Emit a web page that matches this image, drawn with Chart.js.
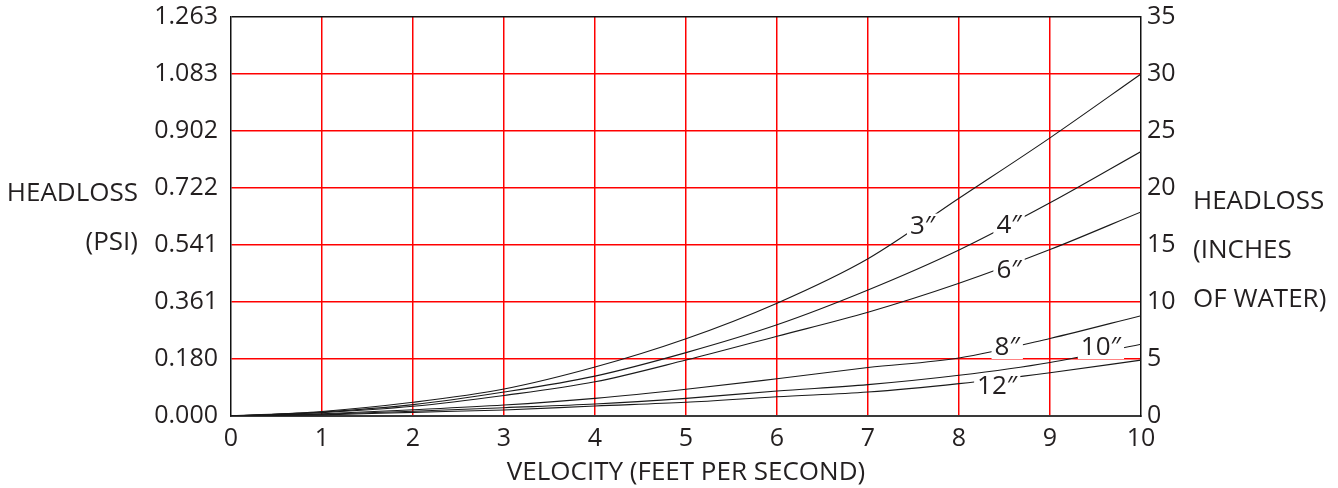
<!DOCTYPE html>
<html>
<head>
<meta charset="utf-8">
<script src="https://cdn.jsdelivr.net/npm/chart.js@4.4.1/dist/chart.umd.min.js"></script>
<style>
  html, body { margin: 0; padding: 0; background: #fff; }
</style>
</head>
<body>
<canvas id="myChart" width="1338" height="488"></canvas>
<script>
// velocity (ft/s) and headloss in inches of water for each pipe size
var velocity = [0, 1, 2, 3, 4, 5, 6, 7, 8, 9, 10];
var pipe3  = [0, 0.40, 1.20, 2.37, 4.30, 6.78, 9.90, 13.80, 19.10, 24.40, 30.00];
var pipe4  = [0, 0.35, 1.00, 2.10, 3.50, 5.56, 8.00, 11.05, 14.56, 18.70, 23.20];
var pipe6  = [0, 0.30, 0.85, 1.80, 3.00, 4.91, 7.00, 9.10, 11.64, 14.60, 17.90];
var pipe8  = [0, 0.20, 0.55, 0.96, 1.55, 2.34, 3.27, 4.25, 5.09, 6.80, 8.80];
var pipe10 = [0, 0.15, 0.42, 0.73, 1.05, 1.55, 2.19, 2.75, 3.57, 4.70, 6.30];
var pipe12 = [0, 0.10, 0.32, 0.53, 0.88, 1.20, 1.69, 2.10, 2.84, 3.80, 4.90];
var sizeNames = ['3″', '4″', '6″', '8″', '10″', '12″'];

var inchTicks = [0, 5, 10, 15, 20, 25, 30, 35];
var psiTicks = ['0.000', '0.180', '0.361', '0.541', '0.722', '0.902', '1.083', '1.263'];

var FONT = '"Open Sans", "Noto Sans", sans-serif';
var INK = '#231f20';
var RED = '#ff0000';

var allSeries = [pipe3, pipe4, pipe6, pipe8, pipe10, pipe12];
var datasets = [];
for (let i = 0; i < allSeries.length; i++) {
  datasets.push({
    label: sizeNames[i],
    data: velocity.map((v, k) => ({ x: v, y: allSeries[i][k] })),
    borderColor: '#1a1a1a',
    borderWidth: 1.1,
    pointRadius: 0,
    fill: false,
    cubicInterpolationMode: 'monotone',
    yAxisID: 'y'
  });
}

// where the size labels sit, in data units (velocity, inches)
var labelSpots = [[7.6, 16.7], [8.55, 16.75], [8.55, 12.8], [8.53, 6.05], [9.56, 6.05], [8.42, 2.63]];

var curveLabels = {
  id: 'curveLabels',
  afterDatasetsDraw(chart) {
    var c = chart.ctx, xs = chart.scales.x, ys = chart.scales.y;
    c.save();
    c.font = '26px ' + FONT;
    c.textAlign = 'center';
    c.textBaseline = 'middle';
    for (let i = 0; i < sizeNames.length; i++) {
      var px = xs.getPixelForValue(labelSpots[i][0]);
      var py = ys.getPixelForValue(labelSpots[i][1]);
      var w = c.measureText(sizeNames[i]).width;
      c.fillStyle = '#fff';
      c.fillRect(px - w / 2 - 3, py - 12, w + 6, 24);
      c.fillStyle = INK;
      c.fillText(sizeNames[i], px, py + 1);
    }
    c.restore();
  }
};

var sideTitles = {
  id: 'sideTitles',
  afterDraw(chart) {
    var c = chart.ctx, a = chart.chartArea;
    c.save();
    c.font = '26px ' + FONT;
    c.fillStyle = INK;
    c.textBaseline = 'middle';
    c.textAlign = 'right';
    c.fillText('HEADLOSS', a.left - 93, 194);
    c.fillText('(PSI)', a.left - 93, 243);
    c.textAlign = 'left';
    c.fillText('HEADLOSS', a.right + 52, 202);
    c.fillText('(INCHES', a.right + 52, 251);
    c.fillText('OF WATER)', a.right + 52, 300);
    c.restore();
  }
};

function fixSide(w) {
  return (s) => { s.width = w; s.paddingTop = 0; s.paddingBottom = 0; };
}

var ctx = document.getElementById('myChart').getContext('2d');
var myChart = new Chart(ctx, {
  type: 'line',
  data: { datasets: datasets },
  plugins: [curveLabels, sideTitles],
  options: {
    responsive: false,
    animation: false,
    layout: { padding: { top: 17, left: 0, right: 0, bottom: 0 } },
    plugins: {
      legend: { display: false },
      tooltip: { enabled: false }
    },
    scales: {
      x: {
        type: 'linear',
        min: 0,
        max: 10,
        ticks: { stepSize: 1, color: INK, font: { family: FONT, size: 25 }, padding: 8 },
        grid: {
          color: (g) => (g.tick && (g.tick.value === 0 || g.tick.value === 10)) ? 'rgba(0,0,0,0)' : RED,
          lineWidth: 1.5,
          drawTicks: false
        },
        border: { display: true, color: '#3a3a3a', width: 2 },
        title: {
          display: true,
          text: 'VELOCITY (FEET PER SECOND)',
          color: INK,
          font: { family: FONT, size: 26 },
          padding: { top: 0, bottom: 0 }
        },
        afterFit: (s) => { s.height = 72; s.paddingLeft = 0; s.paddingRight = 0; }
      },
      y: {
        position: 'left',
        min: 0,
        max: 35,
        ticks: {
          stepSize: 5,
          color: INK,
          font: { family: FONT, size: 25 },
          padding: 13,
          callback: (v) => psiTicks[inchTicks.indexOf(v)]
        },
        grid: {
          color: (g) => {
            if (!g.tick) return RED;
            if (g.tick.value === 35) return '#111';
            if (g.tick.value === 0) return 'rgba(0,0,0,0)';
            return RED;
          },
          lineWidth: 1.5,
          drawTicks: false
        },
        border: { display: true, color: '#111', width: 1.5 },
        afterFit: fixSide(231)
      },
      y2: {
        position: 'right',
        min: 0,
        max: 35,
        ticks: { stepSize: 5, color: INK, font: { family: FONT, size: 25 }, padding: 6 },
        grid: { display: false, drawTicks: false },
        border: { display: true, color: '#111', width: 1.5 },
        afterFit: fixSide(197)
      }
    }
  }
});
</script>
</body>
</html>
